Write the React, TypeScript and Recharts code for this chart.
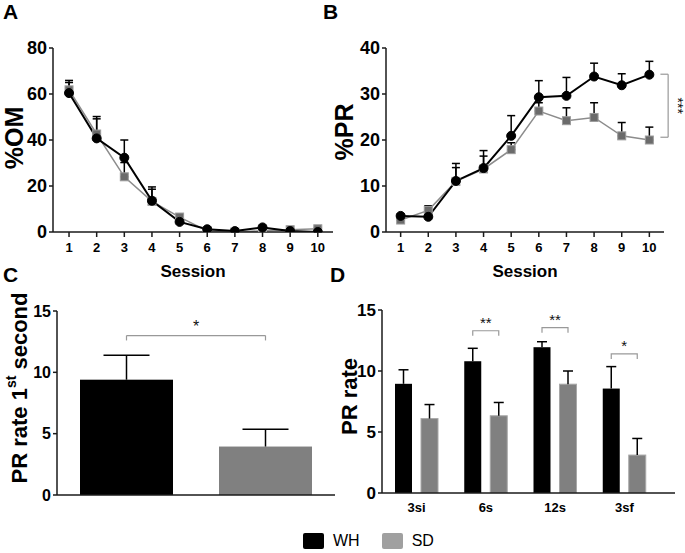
import React from 'react';
import { LineChart, Line, BarChart, Bar, Cell, XAxis, YAxis, ErrorBar, ReferenceLine } from 'recharts';

// sessions 1..10 (panels A and B)
const sessions = [1, 2, 3, 4, 5, 6, 7, 8, 9, 10];

// %OM
const omWH = [60.4, 40.7, 32.3, 13.6, 4.4, 1.2, 0.4, 2.0, 0.4, 0.0];
const omWHErr = [5.5, 9.5, 7.7, 6.0, 3.0, 0.5, 0.3, 0.5, 0.3, 0.3];
const omSD = [61.8, 42.6, 24.0, 13.3, 6.5, 0.5, 0.0, 0.5, 1.0, 1.4];
const omSDErr = [3.2, 6.6, 6.2, 5.3, 1.2, 0.4, 0.3, 0.4, 0.4, 0.4];

// %PR
const prWH = [3.5, 3.3, 11.1, 13.9, 20.9, 29.3, 29.6, 33.8, 31.9, 34.2];
const prWHErr = [0.4, 0.5, 3.8, 3.8, 4.4, 3.6, 4.0, 2.9, 2.5, 2.9];
const prSD = [2.6, 4.7, 11.0, 13.7, 17.9, 26.3, 24.2, 24.9, 20.9, 20.0];
const prSDErr = [0.4, 1.0, 3.0, 2.8, 1.5, 1.8, 2.8, 3.2, 2.9, 2.8];

// PR rate 1st second (panel C)
const groups = ['WH', 'SD'];
const firstRate = [9.4, 3.95];
const firstRateErr = [2.0, 1.4];

// PR rate per interval (panel D)
const intervals = ['3si', '6s', '12s', '3sf'];
const rateWH = [8.95, 10.8, 11.95, 8.56];
const rateWHErr = [1.15, 1.06, 0.45, 1.8];
const rateSD = [6.1, 6.33, 8.92, 3.11];
const rateSDErr = [1.15, 1.09, 1.08, 1.36];
const rateSig = ['', '**', '**', '*'];
const rateSigLevel = [null, 13.3, 13.55, 11.4];

const omData = sessions.map((s, i) => ({
  session: s,
  wh: omWH[i],
  whErr: [0, omWHErr[i]],
  sd: omSD[i],
  sdErr: [0, omSDErr[i]],
}));

const prData = sessions.map((s, i) => ({
  session: s,
  wh: prWH[i],
  whErr: [0, prWHErr[i]],
  sd: prSD[i],
  sdErr: [0, prSDErr[i]],
}));

const firstData = groups.map((g, i) => ({ group: g, value: firstRate[i], err: firstRateErr[i] }));

const rateData = intervals.map((g, i) => ({
  interval: g,
  wh: rateWH[i],
  whErr: rateWHErr[i],
  sd: rateSD[i],
  sdErr: rateSDErr[i],
  sig: rateSig[i],
  sigLevel: rateSigLevel[i],
}));

const FONT = '"Liberation Sans", Arial, sans-serif';
const AXIS = '#1a1a1a';
const SD_LINE = '#8c8c8c';
const SD_FILL = '#808080';
const D_BAR = 17;
const D_GAP = 9;

const AxisTitle = (props: any) => {
  const { viewBox, cx, dy = 0, size, children } = props;
  if (!viewBox) return null;
  const cy = viewBox.y + viewBox.height / 2 + dy;
  return (
    <text
      x={cx}
      y={cy}
      transform={`rotate(-90 ${cx} ${cy})`}
      textAnchor="middle"
      dominantBaseline="central"
      fontSize={size}
      fontWeight="bold"
      fill="#000"
    >
      {children}
    </text>
  );
};

const StarsLabel = (props: any) => {
  const { viewBox } = props;
  if (!viewBox) return null;
  const x = viewBox.x + 10;
  const y = viewBox.y + viewBox.height / 2;
  return (
    <text x={x} y={y} transform={`rotate(90 ${x} ${y})`} textAnchor="middle" dominantBaseline="central" fontSize={14} fill="#111">
      ***
    </text>
  );
};

const SquareDot = (props: any) => {
  const { cx, cy, index } = props;
  if (cx == null || cy == null) return null;
  return <rect key={index} x={cx - 4} y={cy - 4} width={8} height={8} fill="#6b6b6b" stroke="#9c9c9c" strokeWidth={1} />;
};

// bar with an upward error bar; the scale comes from the bar's own height / value
const makeBarShape = (valKey: string, errKey: string, capHalf: number, stroke: string | null, withBracket: boolean) =>
  (props: any) => {
    const { x, y, width, height, fill, payload, index } = props;
    const v = payload[valKey];
    const ppu = v ? height / v : 0;
    const cx = x + width / 2;
    const top = y - payload[errKey] * ppu;
    let bracket = null;
    if (withBracket && payload.sigLevel != null) {
      const by = y + height - payload.sigLevel * ppu;
      const left = x - D_GAP - D_BAR / 2;
      bracket = (
        <g>
          <path d={`M${left},${by + 5}V${by}H${cx}V${by + 5}`} fill="none" stroke="#999" strokeWidth={1.2} />
          <text x={(left + cx) / 2} y={by - 3} textAnchor="middle" fontSize={15} fill="#111">
            {payload.sig}
          </text>
        </g>
      );
    }
    return (
      <g key={index}>
        <rect x={x} y={y} width={width} height={height} fill={fill} stroke={stroke || 'none'} strokeWidth={1} />
        <line x1={cx} y1={y} x2={cx} y2={top} stroke="#000" strokeWidth={1.5} />
        <line x1={cx - capHalf} y1={top} x2={cx + capHalf} y2={top} stroke="#000" strokeWidth={1.5} />
        {bracket}
      </g>
    );
  };

const yTick = (size: number) => ({ fill: '#000', fontSize: size, fontWeight: 'bold' as const });
const xTick = { fill: '#000', fontSize: 13, fontWeight: 'bold' as const };
const sessionLabel = { value: 'Session', position: 'insideBottom' as const, offset: 3, fill: '#000', fontSize: 17, fontWeight: 'bold' };

const PanelLetter = ({ children, left, top }: any) => (
  <div style={{ position: 'absolute', left, top, fontSize: 21, fontWeight: 'bold', lineHeight: '21px', color: '#000' }}>{children}</div>
);

export default function App() {
  return (
    <div style={{ position: 'relative', width: 685, height: 553, background: '#fff', fontFamily: FONT, overflow: 'hidden' }}>
      <style>{'body{margin:0}'}</style>

      <PanelLetter left={3} top={1}>A</PanelLetter>
      <PanelLetter left={323} top={1}>B</PanelLetter>
      <PanelLetter left={3} top={264}>C</PanelLetter>
      <PanelLetter left={330} top={264}>D</PanelLetter>

      {/* A */}
      <div style={{ position: 'absolute', left: 0, top: 0 }}>
        <LineChart width={340} height={280} data={omData} margin={{ top: 48, right: 7, bottom: 0, left: 0 }}>
          <XAxis
            dataKey="session"
            type="number"
            domain={[0.42, 10.55]}
            ticks={sessions}
            interval={0}
            allowDataOverflow
            height={48}
            tickSize={5}
            tickMargin={6}
            tick={xTick}
            stroke={AXIS}
            strokeWidth={1.5}
            label={sessionLabel}
          />
          <YAxis
            domain={[0, 80]}
            ticks={[0, 20, 40, 60, 80]}
            allowDataOverflow
            width={53}
            tickSize={4}
            tickMargin={2}
            tick={yTick(18)}
            stroke={AXIS}
            strokeWidth={1.5}
            label={<AxisTitle cx={14} dy={-2} size={25}>%OM</AxisTitle>}
          />
          <Line dataKey="sd" stroke={SD_LINE} strokeWidth={1.5} dot={<SquareDot />} activeDot={false} isAnimationActive={false}>
            <ErrorBar dataKey="sdErr" width={4} stroke="#000" strokeWidth={1.5} direction="y" />
          </Line>
          <Line dataKey="wh" stroke="#000" strokeWidth={2} dot={{ r: 4.5, fill: '#000', stroke: '#000', strokeWidth: 1 }} activeDot={false} isAnimationActive={false}>
            <ErrorBar dataKey="whErr" width={4} stroke="#000" strokeWidth={1.5} direction="y" />
          </Line>
        </LineChart>
      </div>

      {/* B */}
      <div style={{ position: 'absolute', left: 328, top: 0 }}>
        <LineChart width={357} height={280} data={prData} margin={{ top: 48, right: 21, bottom: 0, left: 0 }}>
          <XAxis
            dataKey="session"
            type="number"
            domain={[0.47, 10.53]}
            ticks={sessions}
            interval={0}
            allowDataOverflow
            height={48}
            tickSize={5}
            tickMargin={6}
            tick={xTick}
            stroke={AXIS}
            strokeWidth={1.5}
            label={sessionLabel}
          />
          <YAxis
            domain={[0, 40]}
            ticks={[0, 10, 20, 30, 40]}
            allowDataOverflow
            width={58}
            tickSize={4}
            tickMargin={2}
            tick={yTick(18)}
            stroke={AXIS}
            strokeWidth={1.5}
            label={<AxisTitle cx={16} dy={-8} size={25}>%PR</AxisTitle>}
          />
          <Line dataKey="sd" stroke={SD_LINE} strokeWidth={1.5} dot={<SquareDot />} activeDot={false} isAnimationActive={false}>
            <ErrorBar dataKey="sdErr" width={4} stroke="#000" strokeWidth={1.5} direction="y" />
          </Line>
          <Line dataKey="wh" stroke="#000" strokeWidth={2} dot={{ r: 4.5, fill: '#000', stroke: '#000', strokeWidth: 1 }} activeDot={false} isAnimationActive={false}>
            <ErrorBar dataKey="whErr" width={4} stroke="#000" strokeWidth={1.5} direction="y" />
          </Line>
          <ReferenceLine
            segment={[{ x: 10.68, y: prSD[9] + 0.6 }, { x: 10.68, y: prWH[9] + 0.1 }]}
            stroke="#999"
            strokeWidth={1.2}
            ifOverflow="visible"
            label={<StarsLabel />}
          />
          <ReferenceLine segment={[{ x: 10.4, y: prSD[9] + 0.6 }, { x: 10.68, y: prSD[9] + 0.6 }]} stroke="#999" strokeWidth={1.2} ifOverflow="visible" />
          <ReferenceLine segment={[{ x: 10.4, y: prWH[9] + 0.1 }, { x: 10.68, y: prWH[9] + 0.1 }]} stroke="#999" strokeWidth={1.2} ifOverflow="visible" />
        </LineChart>
      </div>

      {/* C */}
      <div style={{ position: 'absolute', left: 0, top: 260 }}>
        <BarChart width={340} height={260} data={firstData} margin={{ top: 51, right: 5, bottom: 0, left: 0 }} barSize={93}>
          <XAxis dataKey="group" height={25} tick={false} tickLine={false} stroke={AXIS} strokeWidth={1.5} />
          <YAxis
            domain={[0, 15]}
            ticks={[0, 5, 10, 15]}
            allowDataOverflow
            width={57}
            tickSize={4}
            tickMargin={2}
            tick={yTick(16)}
            stroke={AXIS}
            strokeWidth={1.5}
            label={
              <AxisTitle cx={19} dy={-15} size={22}>
                PR rate 1
                <tspan baselineShift="super" fontSize={14}>st</tspan>
                <tspan> second</tspan>
              </AxisTitle>
            }
          />
          <Bar dataKey="value" isAnimationActive={false} shape={makeBarShape('value', 'err', 23, null, false)}>
            {firstData.map((d, i) => (
              <Cell key={d.group} fill={i === 0 ? '#000' : SD_FILL} />
            ))}
          </Bar>
          <ReferenceLine
            segment={[{ x: 'WH', y: 13 }, { x: 'SD', y: 13 }]}
            stroke="#999"
            strokeWidth={1.2}
            ifOverflow="visible"
            label={{ value: '*', position: 'top', offset: 4, fill: '#111', fontSize: 16 }}
          />
          <ReferenceLine segment={[{ x: 'WH', y: 13 }, { x: 'WH', y: 12.6 }]} stroke="#999" strokeWidth={1.2} ifOverflow="visible" />
          <ReferenceLine segment={[{ x: 'SD', y: 13 }, { x: 'SD', y: 12.6 }]} stroke="#999" strokeWidth={1.2} ifOverflow="visible" />
        </BarChart>
      </div>

      {/* D */}
      <div style={{ position: 'absolute', left: 328, top: 260 }}>
        <BarChart width={357} height={260} data={rateData} margin={{ top: 50, right: 10, bottom: 0, left: 0 }} barSize={D_BAR} barGap={D_GAP}>
          <XAxis
            dataKey="interval"
            height={27}
            padding={{ left: 0, right: 16 }}
            tickLine={false}
            tickSize={0}
            tickMargin={10}
            tick={xTick}
            stroke={AXIS}
            strokeWidth={1.5}
          />
          <YAxis
            domain={[0, 15]}
            ticks={[0, 5, 10, 15]}
            allowDataOverflow
            width={54}
            tickSize={4}
            tickMargin={2}
            tick={yTick(17)}
            stroke={AXIS}
            strokeWidth={1.5}
            label={<AxisTitle cx={21} dy={-5} size={22}>PR rate</AxisTitle>}
          />
          <Bar dataKey="wh" fill="#000" isAnimationActive={false} shape={makeBarShape('wh', 'whErr', 5, null, false)} />
          <Bar dataKey="sd" fill={SD_FILL} isAnimationActive={false} shape={makeBarShape('sd', 'sdErr', 5, '#a8a8a8', true)} />
        </BarChart>
      </div>

      {/* legend */}
      <div style={{ position: 'absolute', left: 303, top: 533, display: 'flex', alignItems: 'center', fontSize: 16, color: '#000' }}>
        {groups.map((g, i) => (
          <div key={g} style={{ display: 'flex', alignItems: 'center', marginRight: i === 0 ? 22 : 0 }}>
            <div style={{ width: 21, height: 16, borderRadius: 2, background: i === 0 ? '#000' : '#a0a0a0', marginRight: 9 }} />
            <span style={{ lineHeight: '16px' }}>{g}</span>
          </div>
        ))}
      </div>
    </div>
  );
}
